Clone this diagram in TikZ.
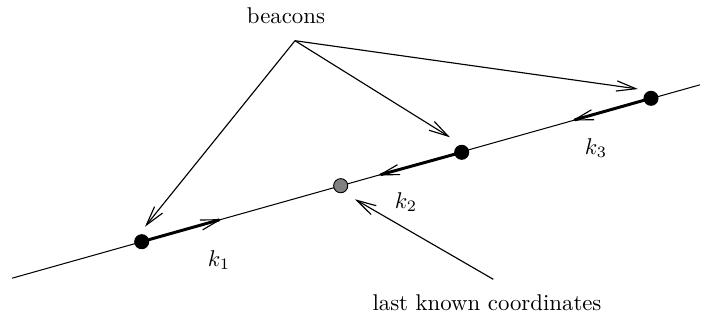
\documentclass[tikz,border=0pt]{standalone}
\usetikzlibrary{arrows.meta}
\begin{document}
\begin{tikzpicture}[x=0.4386pt,y=-0.4386pt,
  thinline/.style={line width=0.45pt},
  thickarrow/.style={line width=1.3pt,-{Straight Barb[length=8.5pt,width=4.5pt,line width=0.5pt]}},
  ptr/.style={line width=0.5pt,-{Straight Barb[length=8.5pt,width=4.5pt]}},
  blackdot/.style={circle,fill=black,inner sep=0pt,minimum size=6.6pt},
  graydot/.style={circle,fill=gray,draw=black,line width=0.4pt,inner sep=0pt,minimum size=6.2pt}]
\useasboundingbox (0,0) rectangle (708,320);
% main line
\coordinate (L) at (12,278.2);
\coordinate (R) at (700,84.8);
\draw[thinline] (L) -- (R);
% points
\node[blackdot] (d1) at (141.7,241.7) {};
\node[blackdot] (d2) at (461.7,152.3) {};
\node[blackdot] (d3) at (651,98.3) {};
\node[graydot] (g) at (340.7,185.7) {};
% thick arrows along the line
\coordinate (t1) at (222,219.1);
\coordinate (t2) at (378,175.4);
\coordinate (t3) at (572,120.6);
\draw[thickarrow] (d1.center) -- (t1);
\draw[thickarrow] (d2.center) -- (t2);
\draw[thickarrow] (d3.center) -- (t3);
% beacons
\node[anchor=base] (bt) at (286,23) {beacons};
\coordinate (apex) at (295,40.7);
\coordinate (b1) at (145,226.7);
\coordinate (b2) at (450,137.3);
\coordinate (b3) at (638,89);
\draw[ptr] (apex) -- (b1);
\draw[ptr] (apex) -- (b2);
\draw[ptr] (apex) -- (b3);
% last known coordinates
\node[anchor=base] (lk) at (487,310) {last known coordinates};
\coordinate (lt) at (493.3,279.3);
\coordinate (lh) at (355,199.3);
\draw[ptr] (lt) -- (lh);
% labels
\node (k1) at (219,260) {$k_1$};
\node (k2) at (406,202) {$k_2$};
\node (k3) at (596,148) {$k_3$};
\end{tikzpicture}
\end{document}
